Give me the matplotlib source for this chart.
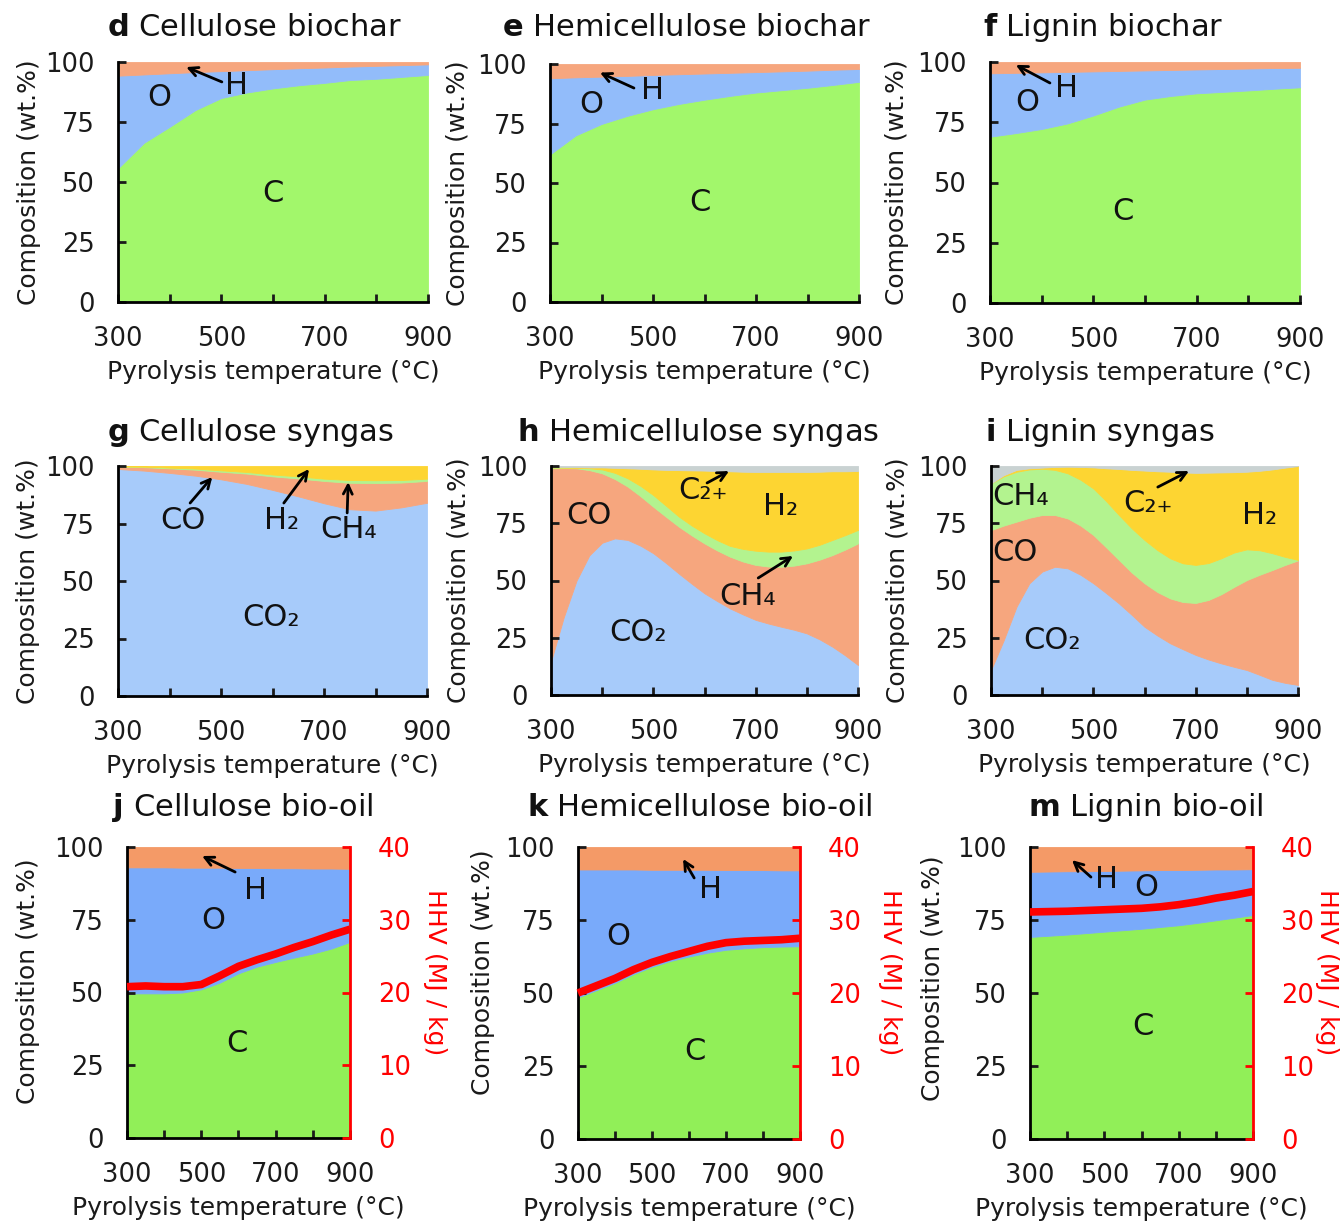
import matplotlib.pyplot as plt

plt.rcParams['font.family'] = ['DejaVu Sans']
plt.rcParams['mathtext.fontset'] = 'dejavusans'

# temperaturas de pirolisis (°C)
temps = [300, 350, 400, 450, 500, 550, 600, 650, 700, 750, 800, 850, 900]
temps_fino = [300, 325, 350, 375, 400, 425, 450, 475, 500, 525, 550, 575, 600,
              625, 650, 675, 700, 725, 750, 775, 800, 825, 850, 875, 900]
xticks = [300, 400, 500, 600, 700, 800, 900]
xtick_labels = ['300', '', '500', '', '700', '', '900']
yticks = [0, 25, 50, 75, 100]
hhv_ticks = [0, 10, 20, 30, 40]

# biochar, wt.%
cel_char_C = [55.7, 66.3, 73.0, 80.0, 85.0, 87.3, 89.0, 90.3, 91.3, 92.5, 93.0, 93.8, 94.6]
cel_char_O = [38.6, 28.5, 22.3, 15.8, 11.2, 9.3, 8.0, 7.1, 6.4, 5.6, 5.4, 4.9, 4.4]
cel_char_H = [5.7, 5.2, 4.7, 4.2, 3.8, 3.4, 3.0, 2.6, 2.3, 1.9, 1.6, 1.3, 1.0]

hem_char_C = [62.0, 70.0, 74.8, 78.2, 81.0, 83.2, 85.0, 86.6, 88.0, 89.0, 90.0, 91.2, 92.5]
hem_char_O = [32.0, 24.4, 19.9, 16.8, 14.4, 12.5, 11.0, 9.7, 8.6, 7.9, 7.2, 6.4, 5.4]
hem_char_H = [6.0, 5.6, 5.3, 5.0, 4.6, 4.3, 4.0, 3.7, 3.4, 3.1, 2.8, 2.4, 2.1]

lig_char_C = [69.0, 70.5, 72.2, 74.5, 77.8, 81.5, 84.4, 85.9, 87.0, 87.6, 88.2, 88.9, 89.5]
lig_char_O = [26.3, 25.0, 23.5, 21.4, 18.3, 14.8, 12.1, 10.8, 9.9, 9.5, 9.1, 8.6, 8.1]
lig_char_H = [4.7, 4.5, 4.3, 4.1, 3.9, 3.7, 3.5, 3.3, 3.1, 2.9, 2.7, 2.5, 2.4]

# syngas celulosa, wt.% (cada componente)
cel_gas_CO2 = [98.7, 98.0, 97.0, 95.8, 94.2, 92.2, 89.6, 86.8, 83.8, 81.2, 80.6, 82.0, 84.0]
cel_gas_CO = [1.0, 1.5, 2.0, 2.6, 3.3, 4.5, 5.9, 7.8, 9.7, 11.5, 12.0, 10.8, 9.5]
cel_gas_CH4 = [0.1, 0.2, 0.3, 0.5, 0.6, 0.7, 0.8, 0.9, 1.0, 1.2, 1.2, 1.1, 1.0]
cel_gas_H2 = [0.2, 0.3, 0.7, 1.1, 1.9, 2.6, 3.7, 4.5, 5.5, 6.1, 6.2, 6.1, 5.5]

# syngas hemicelulosa y lignina: borde superior acumulado de cada franja (wt.%), el resto hasta 100 es C2+
hem_top_CO2 = [14.6, 34.0, 50.0, 61.0, 66.5, 68.4, 67.7, 65.2, 61.9, 57.6, 53.0, 48.6, 44.4,
               41.0, 37.8, 35.2, 32.8, 31.2, 29.8, 28.5, 26.9, 24.3, 21.1, 17.3, 13.1]
hem_top_CO = [99.0, 99.1, 99.0, 98.2, 96.8, 94.3, 91.0, 86.8, 82.2, 77.8, 73.5, 69.7, 66.2,
              63.1, 60.4, 58.3, 56.8, 56.1, 56.0, 56.5, 57.5, 59.1, 61.1, 63.5, 66.2]
hem_top_CH4 = [99.4, 99.3, 99.2, 99.0, 98.5, 97.0, 94.6, 91.3, 87.3, 82.6, 77.9, 74.0, 70.6,
               67.6, 65.1, 63.8, 63.0, 62.6, 62.6, 63.1, 64.0, 65.6, 67.7, 69.8, 72.1]
hem_top_H2 = [99.7, 99.6, 99.5, 99.4, 99.4, 99.2, 99.0, 98.8, 98.5, 98.3, 98.2, 98.1, 98.0,
              97.8, 97.7, 97.5, 97.4, 97.4, 97.4, 97.4, 97.4, 97.5, 97.7, 97.7, 97.8]

lig_top_CO2 = [10.9, 24.0, 38.6, 48.8, 53.9, 56.0, 55.3, 52.5, 48.8, 44.5, 40.0, 35.0, 29.8,
               26.0, 22.6, 20.0, 17.5, 15.5, 13.8, 12.3, 10.9, 8.8, 6.6, 5.3, 4.4]
lig_top_CO = [72.0, 74.0, 75.7, 77.4, 78.6, 78.6, 77.1, 74.0, 69.9, 64.5, 59.0, 53.5, 48.8,
              45.0, 42.2, 40.6, 40.2, 41.5, 44.0, 47.2, 50.2, 52.5, 54.6, 56.8, 58.8]
lig_top_CH4 = [92.4, 95.5, 97.5, 98.5, 98.8, 98.3, 96.8, 94.0, 90.2, 84.7, 78.6, 72.8, 67.7,
               63.3, 59.7, 57.5, 56.8, 57.6, 59.7, 62.2, 63.6, 63.2, 61.9, 60.3, 59.0]
lig_top_H2 = [92.4, 96.0, 98.3, 99.0, 99.3, 99.6, 99.7, 99.6, 99.4, 99.0, 98.7, 98.3, 98.0,
              97.7, 97.5, 97.2, 97.0, 97.1, 97.2, 97.3, 97.5, 97.9, 98.5, 99.3, 100.0]

# bio-oil, wt.% y HHV (MJ/kg)
cel_oil_C = [49.7, 49.7, 49.7, 50.0, 51.1, 53.4, 56.6, 58.9, 60.5, 62.0, 63.4, 65.1, 67.4]
cel_oil_O = [43.3, 43.3, 43.3, 42.9, 41.8, 39.5, 36.2, 33.9, 32.2, 30.7, 29.2, 27.5, 25.1]
cel_oil_H = [7.0, 7.0, 7.0, 7.1, 7.1, 7.1, 7.2, 7.2, 7.3, 7.3, 7.4, 7.4, 7.5]
cel_oil_HHV = [20.8, 20.9, 20.8, 20.8, 21.1, 22.3, 23.6, 24.5, 25.3, 26.2, 27.0, 27.9, 28.7]

hem_oil_C = [48.5, 51.0, 53.5, 56.5, 59.0, 61.0, 62.5, 63.8, 64.8, 65.3, 65.7, 65.9, 66.0]
hem_oil_O = [43.8, 41.3, 38.8, 35.8, 33.2, 31.2, 29.7, 28.4, 27.3, 26.8, 26.4, 26.1, 26.0]
hem_oil_H = [7.7, 7.7, 7.7, 7.7, 7.8, 7.8, 7.8, 7.8, 7.9, 7.9, 7.9, 8.0, 8.0]
hem_oil_HHV = [20.0, 21.0, 22.0, 23.2, 24.2, 25.0, 25.7, 26.4, 26.9, 27.1, 27.2, 27.3, 27.5]

lig_oil_C = [69.2, 69.6, 70.0, 70.5, 71.0, 71.5, 72.0, 72.6, 73.2, 74.0, 74.9, 75.8, 76.7]
lig_oil_O = [22.3, 22.0, 21.7, 21.2, 20.8, 20.4, 20.0, 19.5, 18.9, 18.2, 17.4, 16.5, 15.7]
lig_oil_H = [8.5, 8.4, 8.3, 8.3, 8.2, 8.1, 8.0, 7.9, 7.9, 7.8, 7.7, 7.7, 7.6]
lig_oil_HHV = [31.1, 31.15, 31.2, 31.3, 31.4, 31.5, 31.6, 31.8, 32.1, 32.5, 33.0, 33.4, 33.9]

char_colors = ['#a2f76b', '#92bcfa', '#f6a67e']
gas_colors = ['#a7cbfa', '#f6a67e', '#b3f38f', '#fdd532', '#c9d2d2']
oil_colors = ['#91ef58', '#79aafa', '#f49a67']

W, H = 1343, 1224
fig = plt.figure(figsize=(W / 100, H / 100), dpi=100)


def nuevo_ax(x0, y0, x1, y1):  # caja en pixeles (y desde arriba)
    return fig.add_axes([x0 / W, 1 - y1 / H, (x1 - x0) / W, (y1 - y0) / H])


def estilo(ax, lx, ly):
    ax.set_xlim(300, 900)
    ax.set_ylim(0, 100)
    ax.set_xticks(xticks)
    ax.set_xticklabels(xtick_labels)
    ax.set_yticks(yticks)
    ax.tick_params(direction='in', length=6, width=2, labelsize=18.5, pad=17, colors='#1a1a1a')
    ax.spines['top'].set_visible(False)
    ax.spines['right'].set_visible(False)
    ax.spines['left'].set_linewidth(2)
    ax.spines['bottom'].set_linewidth(2)
    ax.set_xlabel('Pyrolysis temperature (°C)', fontsize=18, labelpad=6, color='#1a1a1a')
    ax.set_ylabel('Composition (wt.%)', fontsize=18, color='#1a1a1a')
    ax.yaxis.set_label_coords(lx, ly)


def apilar(ax, series, colors):
    polys = ax.stackplot(temps, *series, colors=colors)
    for p in polys:  # borde del mismo color para que no queden lineas blancas
        p.set_edgecolor(p.get_facecolor())
        p.set_linewidth(0.6)


def franjas(ax, x, bordes, colors):
    # rellena entre bordes acumulados, desde 0 hasta 100
    abajo = [0] * len(x)
    for borde, c in zip(bordes + [[100] * len(x)], colors):
        ax.fill_between(x, abajo, borde, color=c, lw=0.6, edgecolor=c)
        abajo = borde


def etiqueta(ax, t, y, txt):
    ax.text(t, y, txt, fontsize=22, ha='center', va='center', color='#111111')


def flecha(ax, tail, head):
    ax.annotate('', xy=head, xytext=tail,
                arrowprops=dict(arrowstyle='->', color='k', lw=2, shrinkA=0, shrinkB=0,
                                mutation_scale=16))


def titulo(x, y, letra, texto):
    fig.text(x / W, 1 - y / H, r'$\mathbf{' + letra + '}$ ' + texto, fontsize=22,
             ha='left', va='center', color='#111111')


def hhv(ax, valores, lx, ly):
    ax2 = ax.twinx()
    ax2.set_ylim(0, 40)
    ax2.set_yticks(hhv_ticks)
    ax2.plot(temps, valores, color='#ff0000', lw=5.5, solid_capstyle='butt', clip_on=False)
    ax2.tick_params(axis='y', direction='in', length=6, width=2, labelsize=18.5, pad=20,
                    colors='#ff0000')
    for s in ['top', 'left', 'bottom']:
        ax2.spines[s].set_visible(False)
    ax2.spines['right'].set_color('#ff0000')
    ax2.spines['right'].set_linewidth(2)
    ax2.set_ylabel('HHV (MJ / kg)', fontsize=18, color='#ff0000', rotation=270, va='bottom')
    ax2.yaxis.set_label_coords(lx, ly)


# ---- fila 1: biochar ----
ax = nuevo_ax(118, 62, 428, 302)
apilar(ax, [cel_char_C, cel_char_O, cel_char_H], char_colors)
estilo(ax, -0.248, 0.5)
etiqueta(ax, 379, 85, 'O')
etiqueta(ax, 530, 90, 'H')
flecha(ax, (501, 91.7), (432, 97.9))
etiqueta(ax, 600, 45, 'C')
titulo(107, 27, 'd', 'Cellulose biochar')

ax = nuevo_ax(550, 64, 859, 302)
apilar(ax, [hem_char_C, hem_char_O, hem_char_H], char_colors)
estilo(ax, -0.259, 0.5)
etiqueta(ax, 380, 83, 'O')
etiqueta(ax, 500, 89, 'H')
flecha(ax, (463, 89.9), (397, 96.4))
etiqueta(ax, 591, 42, 'C')
titulo(502, 27, 'e', 'Hemicellulose biochar')

ax = nuevo_ax(990, 62, 1300, 303)
apilar(ax, [lig_char_C, lig_char_O, lig_char_H], char_colors)
estilo(ax, -0.261, 0.5)
etiqueta(ax, 372, 83, 'O')
etiqueta(ax, 449, 89, 'H')
flecha(ax, (416, 91.3), (350, 98.8))
etiqueta(ax, 557, 38, 'C')
titulo(983, 27, 'f', 'Lignin biochar')

# ---- fila 2: syngas ----
ax = nuevo_ax(118, 466, 427, 696)
apilar(ax, [cel_gas_CO2, cel_gas_CO, cel_gas_CH4, cel_gas_H2], gas_colors[:4])
estilo(ax, -0.252, 0.5)
etiqueta(ax, 426, 76.5, 'CO')
flecha(ax, (440, 83.9), (483, 95.2))
etiqueta(ax, 618, 76.5, 'H₂')
flecha(ax, (622, 83.9), (671, 98.7))
etiqueta(ax, 747, 72.2, 'CH₄')
flecha(ax, (745, 79.6), (747, 93.0))
etiqueta(ax, 597, 34.3, 'CO₂')
titulo(107, 432, 'g', 'Cellulose syngas')

ax = nuevo_ax(551, 466, 858, 695)
franjas(ax, temps_fino, [hem_top_CO2, hem_top_CO, hem_top_CH4, hem_top_H2], gas_colors)
estilo(ax, -0.26, 0.5)
etiqueta(ax, 374, 78.6, 'CO')
etiqueta(ax, 597, 89.1, 'C₂₊')
flecha(ax, (605, 92.6), (648, 97.8))
etiqueta(ax, 748, 82.1, 'H₂')
etiqueta(ax, 685, 42.8, 'CH₄')
flecha(ax, (705, 51.1), (773, 60.7))
etiqueta(ax, 470, 27.1, 'CO₂')
titulo(517, 432, 'h', 'Hemicellulose syngas')

ax = nuevo_ax(991, 466, 1298, 695)
franjas(ax, temps_fino, [lig_top_CO2, lig_top_CO, lig_top_CH4, lig_top_H2], gas_colors)
estilo(ax, -0.264, 0.5)
etiqueta(ax, 357, 86.5, 'CH₄')
etiqueta(ax, 347, 62.4, 'CO')
etiqueta(ax, 607, 83.8, 'C₂₊')
flecha(ax, (626, 90.8), (687, 97.8))
etiqueta(ax, 824, 78.6, 'H₂')
etiqueta(ax, 419, 23.6, 'CO₂')
titulo(985, 432, 'i', 'Lignin syngas')

# ---- fila 3: bio-oil ----
ax = nuevo_ax(127, 847, 350, 1138)
apilar(ax, [cel_oil_C, cel_oil_O, cel_oil_H], oil_colors)
estilo(ax, -0.39, 0.54)
etiqueta(ax, 647, 85.2, 'H')
flecha(ax, (591, 91.4), (502, 96.9))
etiqueta(ax, 531, 74.9, 'O')
etiqueta(ax, 596, 32.6, 'C')
hhv(ax, cel_oil_HHV, 1.327, 0.57)
titulo(112, 808, 'j', 'Cellulose bio-oil')

ax = nuevo_ax(578, 847, 800, 1139)
apilar(ax, [hem_oil_C, hem_oil_O, hem_oil_H], oil_colors)
estilo(ax, -0.374, 0.57)
etiqueta(ax, 657, 85.3, 'H')
flecha(ax, (614, 89.4), (584, 95.9))
etiqueta(ax, 408, 69.2, 'O')
etiqueta(ax, 616, 29.8, 'C')
hhv(ax, hem_oil_HHV, 1.35, 0.57)
titulo(527, 808, 'k', 'Hemicellulose bio-oil')

ax = nuevo_ax(1030, 847, 1253, 1139)
apilar(ax, [lig_oil_C, lig_oil_O, lig_oil_H], oil_colors)
estilo(ax, -0.381, 0.55)
etiqueta(ax, 507, 88.7, 'H')
flecha(ax, (464, 89.7), (413, 95.5))
etiqueta(ax, 612, 86.3, 'O')
etiqueta(ax, 604, 38.4, 'C')
hhv(ax, lig_oil_HHV, 1.278, 0.57)
titulo(1028, 808, 'm', 'Lignin bio-oil')

fig.savefig('out.png', dpi=100)
